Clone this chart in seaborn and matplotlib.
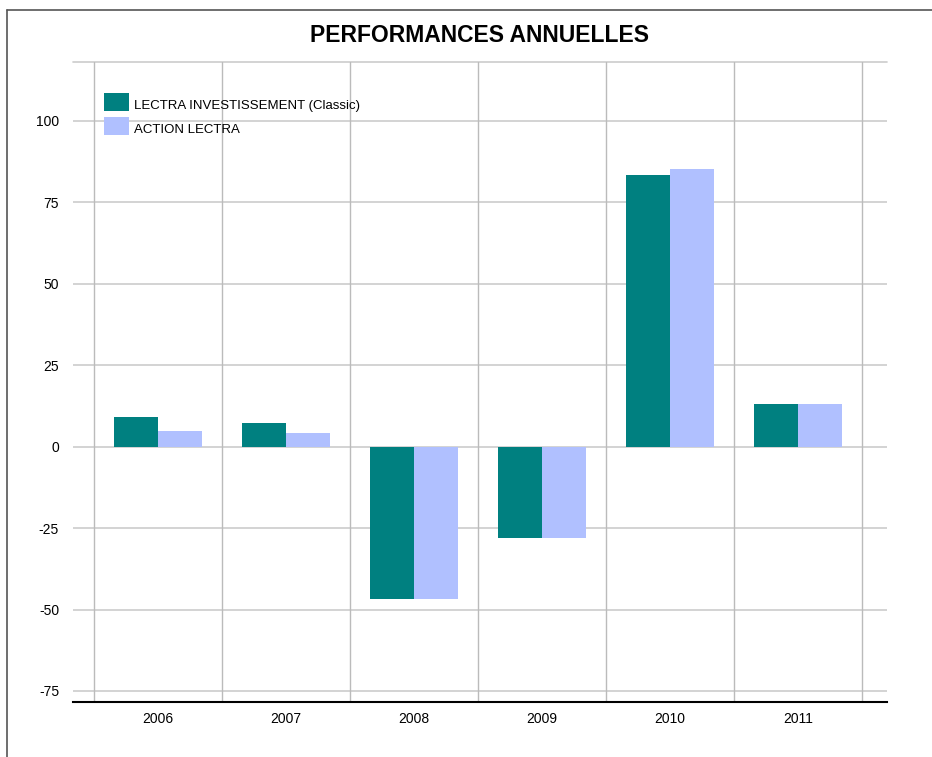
import pandas as pd
import numpy as np
import matplotlib.pyplot as plt
import seaborn as sns
from matplotlib.lines import Line2D

years = ['2006', '2007', '2008', '2009', '2010', '2011']
lectra_invest = [9.2, 7.4, -46.8, -27.9, 83.4, 13.1]
action_lectra = [4.9, 4.3, -46.8, -27.9, 85.3, 13.1]
series_names = ['LECTRA INVESTISSEMENT (Classic)', 'ACTION LECTRA']
yticks = [-75, -50, -25, 0, 25, 50, 75, 100]

df = pd.DataFrame({
    'year': years * 2,
    'perf': lectra_invest + action_lectra,
    'serie': [series_names[0]] * len(years) + [series_names[1]] * len(years),
})

sns.set_style('white')
plt.rcParams['font.family'] = ['Liberation Sans', 'DejaVu Sans']
plt.rcParams['axes.unicode_minus'] = False
plt.rcParams['text.color'] = 'black'

fig = plt.figure(figsize=(9.32, 7.57), dpi=100)
ax = fig.add_axes([73 / 932, 1 - 702 / 757, 814 / 932, 640 / 757])

sns.barplot(data=df, x='year', y='perf', hue='serie', palette=['#008080', '#B0C0FF'],
            width=0.69, saturation=1, linewidth=0, ax=ax, zorder=3)

ax.set_xlim(-0.664, 5.695)
ax.set_ylim(-78.4, 118.1)
ax.set_yticks(yticks)
ax.set_xlabel('')
ax.set_ylabel('')

# grid lines
for v in yticks:
    ax.axhline(v, color='#cccccc', lw=1.2, zorder=1)
ax.axhline(118.1, color='#cccccc', lw=1.2, zorder=1, clip_on=False)
for b in np.arange(-0.5, 6, 1):
    ax.axvline(b, color='#bbbbbb', lw=1.0, zorder=1)

for s in ['left', 'right', 'top']:
    ax.spines[s].set_visible(False)
ax.spines['bottom'].set_color('black')
ax.spines['bottom'].set_linewidth(1.5)
ax.spines['bottom'].set_zorder(4)

ax.tick_params(axis='y', length=0, pad=10, labelsize=10, labelcolor='black')
ax.tick_params(axis='x', length=0, pad=7, labelsize=10, labelcolor='black')

leg = ax.legend(loc='upper left', bbox_to_anchor=(0.038, 0.952), borderaxespad=0,
                borderpad=0, frameon=False, fontsize=9.5, handlelength=1.9,
                handleheight=1.75, handletextpad=0.4, labelspacing=0.45,
                labelcolor='black')
# texts sit a little lower than the swatch centre in the original
for t in leg.get_texts():
    t.set_y(-3)

fig.text(480 / 932, 1 - 35 / 757, 'PERFORMANCES ANNUELLES', ha='center', va='center',
         fontsize=16.5, fontweight='bold', color='black')

# page frame
fig.add_artist(Line2D([7 / 932, 7 / 932], [0, 1 - 10 / 757], color='#555555', lw=1.2))
fig.add_artist(Line2D([7 / 932, 1], [1 - 10 / 757, 1 - 10 / 757], color='#555555', lw=1.2))

fig.savefig('out.png', dpi=100)
